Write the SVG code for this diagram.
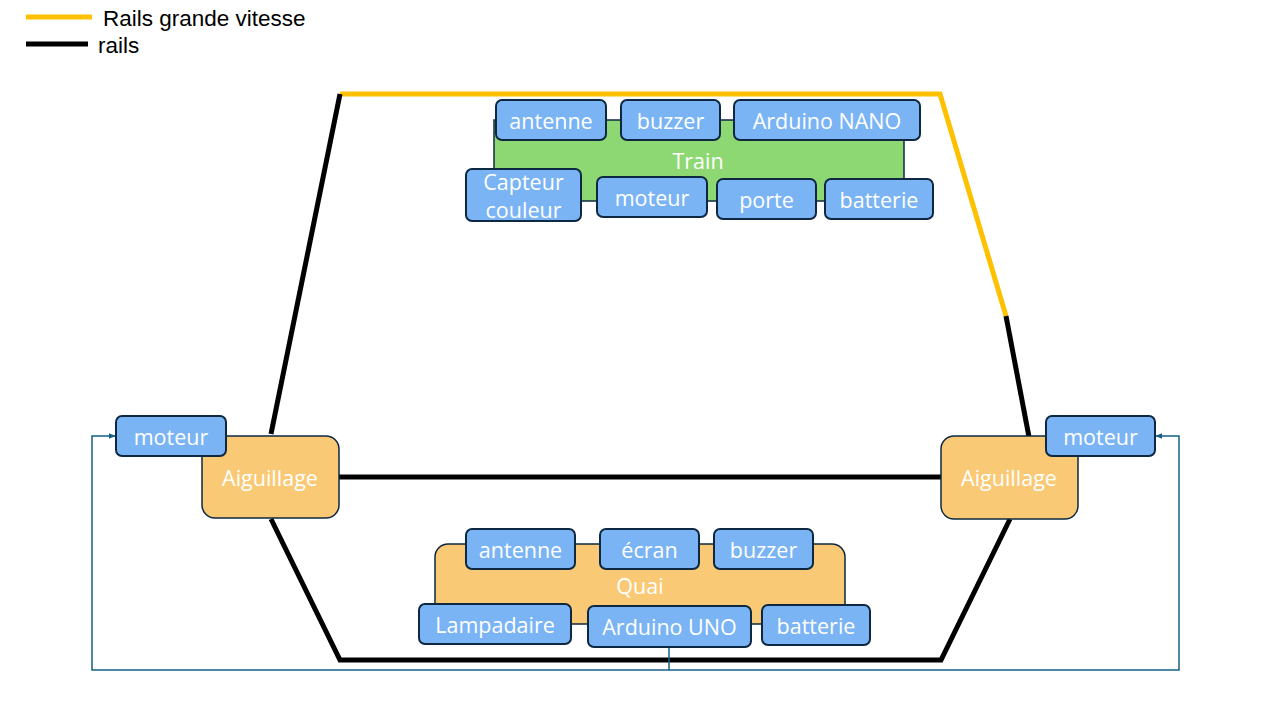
<svg xmlns="http://www.w3.org/2000/svg" width="1280" height="720" viewBox="0 0 1280 720">
  <defs>
    <marker id="arrow" viewBox="0 0 10 10" refX="9" refY="5" markerWidth="7" markerHeight="7" orient="auto" markerUnits="userSpaceOnUse">
      <path d="M0,1 L10,5 L0,9 z" fill="#156082"/>
    </marker>
    <style>
      text { font-family: "Open Sans", "Liberation Sans", sans-serif; font-size: 21.5px; }
      .lbl { fill: #ffffff; text-anchor: middle; dominant-baseline: central; }
      .legend { fill: #000000; font-family: "Liberation Sans", Arial, sans-serif; font-size: 22.5px; }
      .part { fill: #7AB4F5; stroke: #0E2841; stroke-width: 2; }
      .orange { fill: #FAC975; stroke: #0E2841; stroke-width: 1.5; }
      .green { fill: #8ED873; stroke: #0E2841; stroke-width: 1.5; }
      .rail { fill: none; stroke: #000000; stroke-width: 5; }
      .fast { fill: none; stroke: #FFC000; stroke-width: 5; }
      .wire { fill: none; stroke: #156082; stroke-width: 1.5; }
    </style>
  </defs>

  <rect width="1280" height="720" fill="#ffffff"/>

  <!-- legend -->
  <g id="legend">
    <line x1="26" y1="17" x2="92" y2="17" class="fast"/>
    <line x1="26" y1="44" x2="88" y2="44" class="rail"/>
    <text x="103" y="26" class="legend">Rails grande vitesse</text>
    <text x="98" y="53" class="legend">rails</text>
  </g>

  <!-- track layout -->
  <g id="tracks">
    <polyline points="340,94 940,94 1006,316" class="fast"/>
    <line x1="1006" y1="316" x2="1029" y2="437" class="rail"/>
    <line x1="340" y1="94" x2="271" y2="434" class="rail"/>
    <line x1="339" y1="477" x2="941" y2="477" class="rail"/>
    <polyline points="271,519 340,660 941,660 1010,519" class="rail"/>
  </g>

  <!-- control wiring -->
  <g id="connectors">
    <polyline points="669,647 669,670" class="wire"/>
    <polyline points="669,670 92,670 92,436 115,436" class="wire" marker-end="url(#arrow)"/>
    <polyline points="669,670 1179,670 1179,436 1156,436" class="wire" marker-end="url(#arrow)"/>
  </g>

  <!-- train -->
  <g id="train">
    <rect x="494" y="120" width="410" height="81" class="green"/>
    <text x="698" y="160" class="lbl">Train</text>
  </g>
  <g id="train-antenne">
    <rect x="496" y="100" width="110" height="40" rx="6" class="part"/>
    <text x="551" y="120" class="lbl">antenne</text>
  </g>
  <g id="train-buzzer">
    <rect x="621" y="100" width="99" height="40" rx="6" class="part"/>
    <text x="670.5" y="120" class="lbl">buzzer</text>
  </g>
  <g id="train-arduino">
    <rect x="734" y="100" width="186" height="40" rx="6" class="part"/>
    <text x="827" y="120" class="lbl">Arduino NANO</text>
  </g>
  <g id="train-capteur">
    <rect x="466" y="169" width="115" height="52" rx="6" class="part"/>
    <text x="523.5" y="181" class="lbl">Capteur</text>
    <text x="523.5" y="209" class="lbl">couleur</text>
  </g>
  <g id="train-moteur">
    <rect x="597" y="177" width="110" height="40" rx="6" class="part"/>
    <text x="652" y="197" class="lbl">moteur</text>
  </g>
  <g id="train-porte">
    <rect x="717" y="179" width="99" height="40" rx="6" class="part"/>
    <text x="766.5" y="199" class="lbl">porte</text>
  </g>
  <g id="train-batterie">
    <rect x="825" y="179" width="108" height="40" rx="6" class="part"/>
    <text x="879" y="199" class="lbl">batterie</text>
  </g>

  <!-- left switch -->
  <g id="aiguillage-gauche">
    <rect x="202" y="436" width="137" height="82" rx="13" class="orange"/>
    <text x="270" y="477" class="lbl">Aiguillage</text>
  </g>
  <g id="moteur-gauche">
    <rect x="116" y="416" width="110" height="40" rx="6" class="part"/>
    <text x="171" y="436" class="lbl">moteur</text>
  </g>

  <!-- right switch -->
  <g id="aiguillage-droit">
    <rect x="941" y="436" width="137" height="83" rx="13" class="orange"/>
    <text x="1009" y="477" class="lbl">Aiguillage</text>
  </g>
  <g id="moteur-droit">
    <rect x="1046" y="416" width="109" height="40" rx="6" class="part"/>
    <text x="1100.5" y="436" class="lbl">moteur</text>
  </g>

  <!-- platform -->
  <g id="quai">
    <rect x="435" y="544" width="410" height="80" rx="13" class="orange"/>
    <text x="640" y="585" class="lbl">Quai</text>
  </g>
  <g id="quai-antenne">
    <rect x="466" y="529" width="109" height="40" rx="6" class="part"/>
    <text x="520.5" y="549" class="lbl">antenne</text>
  </g>
  <g id="quai-ecran">
    <rect x="600" y="529" width="99" height="40" rx="6" class="part"/>
    <text x="649.5" y="549" class="lbl">écran</text>
  </g>
  <g id="quai-buzzer">
    <rect x="714" y="529" width="99" height="40" rx="6" class="part"/>
    <text x="763.5" y="549" class="lbl">buzzer</text>
  </g>
  <g id="quai-lampadaire">
    <rect x="419" y="604" width="152" height="40" rx="6" class="part"/>
    <text x="495" y="624" class="lbl">Lampadaire</text>
  </g>
  <g id="quai-arduino">
    <rect x="588" y="606" width="163" height="41" rx="6" class="part"/>
    <text x="669.5" y="626" class="lbl">Arduino UNO</text>
  </g>
  <g id="quai-batterie">
    <rect x="762" y="605" width="108" height="40" rx="6" class="part"/>
    <text x="816" y="625" class="lbl">batterie</text>
  </g>
</svg>
